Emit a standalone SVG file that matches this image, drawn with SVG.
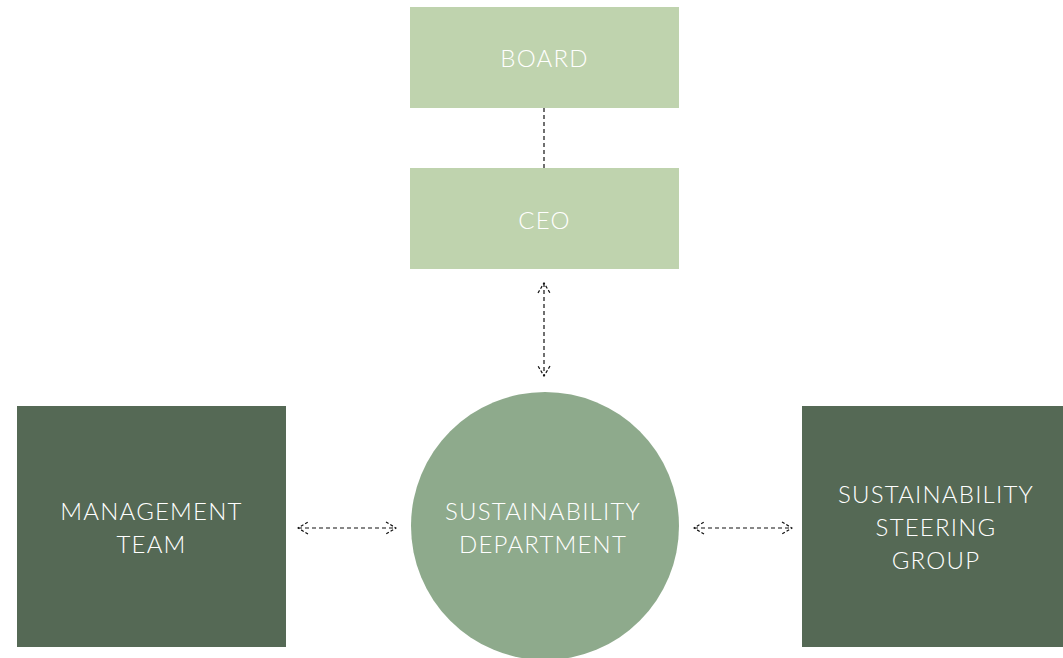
<svg xmlns="http://www.w3.org/2000/svg" width="1063" height="658" viewBox="0 0 1063 658">
<style>
.lbl{font-family:Lato,"Open Sans","Liberation Sans",sans-serif;font-size:24px;font-weight:300;fill:#ffffff;text-anchor:middle;letter-spacing:1.2px}
.con{fill:none;stroke:#111;stroke-width:1.2;stroke-dasharray:4 3}
</style>
<defs>
<marker id="ah" viewBox="0 0 12 14" refX="11" refY="7" markerWidth="12" markerHeight="14" markerUnits="userSpaceOnUse" orient="auto-start-reverse">
<path d="M1,1 L11,7 L1,13" fill="none" stroke="#111" stroke-width="1.2" stroke-dasharray="3 2"/>
</marker>
</defs>
<rect width="1063" height="658" fill="#ffffff"/>
<g id="connectors">
<line class="con" x1="544" y1="108" x2="544" y2="168"/>
<line class="con" x1="544" y1="283" x2="544" y2="376" marker-start="url(#ah)" marker-end="url(#ah)"/>
<line class="con" x1="298" y1="528" x2="396" y2="528" marker-start="url(#ah)" marker-end="url(#ah)"/>
<line class="con" x1="694" y1="528" x2="792" y2="528" marker-start="url(#ah)" marker-end="url(#ah)"/>
</g>
<g id="board">
<rect x="410" y="7" width="269" height="101" fill="#bfd3ae"/>
<text class="lbl" x="544.5" y="67">BOARD</text>
</g>
<g id="ceo">
<rect x="410" y="168" width="269" height="101" fill="#bfd3ae"/>
<text class="lbl" x="544.5" y="229">CEO</text>
</g>
<g id="management">
<rect x="17" y="406" width="269" height="241" fill="#556955"/>
<text class="lbl" x="151.5" y="520">MANAGEMENT</text>
<text class="lbl" x="151.5" y="553">TEAM</text>
</g>
<g id="department">
<circle cx="545" cy="526" r="134" fill="#8eaa8c"/>
<text class="lbl" x="543" y="520">SUSTAINABILITY</text>
<text class="lbl" x="543" y="553">DEPARTMENT</text>
</g>
<g id="steering">
<rect x="802" y="406" width="261" height="241" fill="#556955"/>
<text class="lbl" x="936" y="503">SUSTAINABILITY</text>
<text class="lbl" x="936" y="536">STEERING</text>
<text class="lbl" x="936" y="569">GROUP</text>
</g>
</svg>
